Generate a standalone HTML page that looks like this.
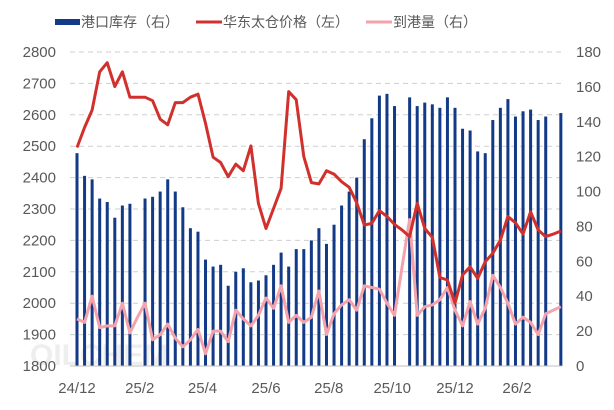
<!DOCTYPE html>
<html><head><meta charset="utf-8"><style>
body{margin:0;background:#fff;}
svg text{font-family:"Liberation Sans","Noto Sans CJK SC",sans-serif;}
</style></head><body>
<svg id="chart" width="614" height="405" xmlns="http://www.w3.org/2000/svg">
<rect width="614" height="405" fill="#fff"/>
<g id="legend">
 <g><rect x="55" y="19" width="25" height="6" fill="#123a86"/><text x="81" y="27" font-size="14" fill="#595959">港口库存（右）</text></g>
 <g><rect x="196" y="20.5" width="26" height="3" fill="#d0312d"/><text x="223" y="27" font-size="14" fill="#595959">华东太仓价格（左）</text></g>
 <g><rect x="366" y="20.5" width="26" height="3" fill="#f4a3ac"/><text x="393" y="27" font-size="14" fill="#595959">到港量（右）</text></g>
</g>
<text x="30" y="365" font-size="30" fill="#eeeeee" font-weight="bold">OILCHEM</text>
<g id="grid"></g><g id="bars"></g><g id="lines"></g><g id="axes"></g>
</svg>
<script>
const xLabels=["24/12","25/2","25/4","25/6","25/8","25/10","25/12","26/2"];
const xLabelIdx=[0,8.3,16.6,25,33.3,41.7,50,58.2];
const leftTicks=[1800,1900,2000,2100,2200,2300,2400,2500,2600,2700,2800];
const rightTicks=[0,20,40,60,80,100,120,140,160,180];
const inventory=[122,109,107,96,94,85,92,93,null,96,97,100,107,100,91,79,77,61,57,58,46,54,56,48,49,52,58,65,57,67,67,72,79,70,81,92,100,108,130,142,155,156,149,null,154,149,151,150,148,154,148,136,135,123,122,141,148,153,143,146,147,141,143,null,145];
const price=[2496,2560,2615,2737,2766,2690,2737,2656,2656,2656,2645,2586,2568,2639,2639,2656,2666,2573,2465,2448,2403,2443,2422,2501,2318,2238,2302,2366,2674,2648,2467,2384,2380,2422,2411,2387,2369,2320,2249,2254,2295,2276,2251,2233,2212,2318,2238,2210,2082,2074,2000,2090,2116,2079,2132,2159,2201,2276,2256,2220,2291,2233,2212,2220,2230];
const arrivals=[27,25,40,22,23,23,36,19,28,36,15,18,24,16,11,15,21,7,20,20,14,32,27,23,29,39,33,46,25,29,25,28,43,18,30,35,38,32,46,45,44,36,29,57,84,29,34,35,38,45,32,23,37,24,33,52,45,36,24,28,25,18,30,32,34];
const NS="http://www.w3.org/2000/svg";
const X0=77,STEP=7.56,Y0=366,Y1=52;
const xs=i=>X0+i*STEP;
const yL=v=>Y0-(v-1800)/1000*(Y0-Y1);
const yR=v=>Y0-v/180*(Y0-Y1);
function mk(tag,attrs,parent){const e=document.createElementNS(NS,tag);for(const k in attrs)e.setAttribute(k,attrs[k]);document.getElementById(parent).appendChild(e);return e;}
leftTicks.forEach((t,i)=>{
 if(i>0){const g=mk('line',{x1:70,x2:562,y1:yL(t),y2:yL(t),stroke:'#cfcfcf','stroke-dasharray':'5,4'},'grid');
 
 }
 const tx=mk('text',{x:56,y:yL(t)+5,'font-size':15,fill:'#595959','text-anchor':'end'},'axes');tx.textContent=t;
 
 
});
rightTicks.forEach(t=>{
 const tx=mk('text',{x:576,y:yR(t)+5,'font-size':15,fill:'#595959'},'axes');tx.textContent=t;
 
 
});
const ax=mk('line',{x1:70,x2:562,y1:Y0,y2:Y0,stroke:'#bfbfbf'},'axes');


xLabels.forEach((l,i)=>{
 const tx=mk('text',{x:xs(xLabelIdx[i]),y:393,'font-size':15,fill:'#595959','text-anchor':'middle'},'axes');tx.textContent=l;
 
 
});
inventory.forEach((v,i)=>{
 if(v==null)return;
 const b=mk('rect',{x:xs(i)-1.5,y:yR(v),width:3,height:Y0-yR(v),fill:'#123a86'},'bars');
 
 
});
function line(arr,yf,color,name){
 const d=arr.map((v,i)=>(i?'L':'M')+xs(i).toFixed(1)+','+yf(v).toFixed(1)).join('');
 const p=mk('path',{d:d,fill:'none',stroke:color,'stroke-width':3,'stroke-linejoin':'round'},'lines');
 
 
}
line(arrivals,yR,'#f4a3ac','arrivals-line');
line(price,yL,'#d0312d','price-line');
</script>
</body></html>
